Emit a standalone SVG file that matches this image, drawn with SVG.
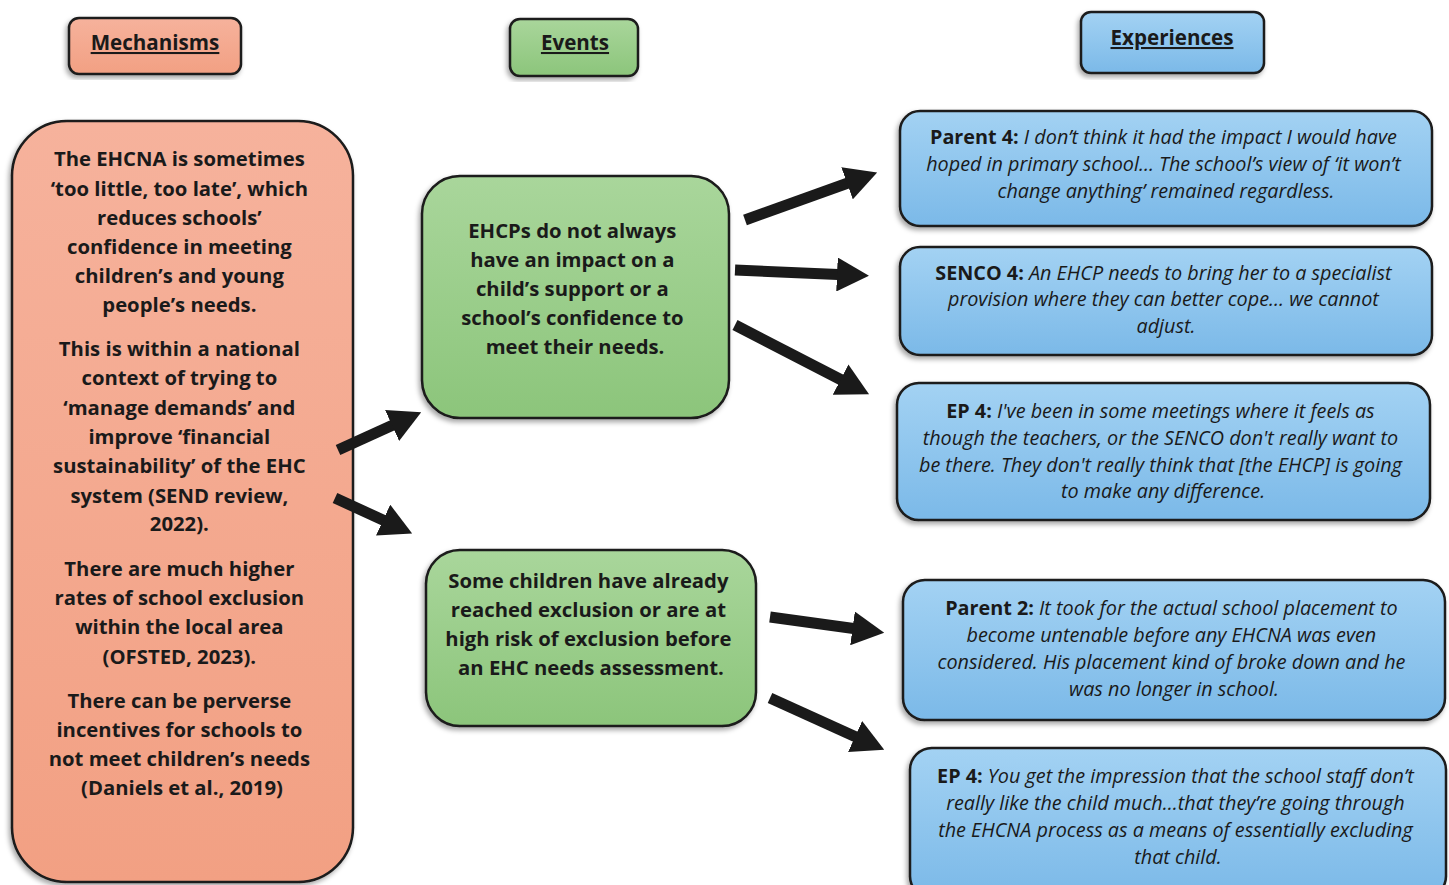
<svg xmlns="http://www.w3.org/2000/svg" width="1449" height="885" viewBox="0 0 1449 885">
  <defs>
    <linearGradient id="gSalmon" x1="0" y1="0" x2="0" y2="1">
      <stop offset="0" stop-color="#f6b29c"/>
      <stop offset="1" stop-color="#f2a083"/>
    </linearGradient>
    <linearGradient id="gGreen" x1="0" y1="0" x2="0" y2="1">
      <stop offset="0" stop-color="#a9d69b"/>
      <stop offset="1" stop-color="#8cc57b"/>
    </linearGradient>
    <linearGradient id="gBlue" x1="0" y1="0" x2="0" y2="1">
      <stop offset="0" stop-color="#a3d2f3"/>
      <stop offset="1" stop-color="#7bb9e8"/>
    </linearGradient>
    <filter id="shadow" x="-10%" y="-10%" width="120%" height="120%">
      <feDropShadow dx="-2" dy="3" stdDeviation="2.5" flood-color="#000" flood-opacity="0.35"/>
    </filter>
    <marker id="head" markerUnits="userSpaceOnUse" markerWidth="32" markerHeight="34" viewBox="0 0 32 34" refX="1" refY="17" orient="auto">
      <path d="M0,0 L32,17 L0,34 z" fill="#1a1a1a"/>
    </marker>
  </defs>
  <style>
    .box { stroke: #1a1a1a; stroke-width: 2.5; filter: url(#shadow); }
    .salmon { fill: url(#gSalmon); }
    .green { fill: url(#gGreen); }
    .blue { fill: url(#gBlue); }
    .hdr { font-family: "Open Sans", Lato, sans-serif; font-weight: bold; font-size: 20.6px; fill: #1a1a1a; text-anchor: middle; text-decoration: underline; }
    .body { font-family: "Open Sans", Lato, sans-serif; font-weight: bold; font-size: 20.3px; fill: #1a1a1a; text-anchor: middle; }
    .quote { font-family: "Open Sans", Lato, sans-serif; font-size: 19.8px; fill: #1a1a1a; text-anchor: middle; font-style: italic; }
    .lbl { font-weight: bold; font-style: normal; }
    .conn { stroke: #1a1a1a; stroke-width: 11; fill: none; marker-end: url(#head); }
  </style>

  <rect width="1449" height="885" fill="#ffffff"/>

  <!-- column headings -->
  <g id="hdr-mechanisms">
    <rect class="box salmon" x="69" y="18" width="172" height="56" rx="10"/>
    <text class="hdr" x="155" y="50">Mechanisms</text>
  </g>
  <g id="hdr-events">
    <rect class="box green" x="510" y="19" width="128" height="57" rx="10"/>
    <text class="hdr" x="575" y="50">Events</text>
  </g>
  <g id="hdr-experiences">
    <rect class="box blue" x="1081" y="12" width="183" height="61" rx="10"/>
    <text class="hdr" x="1172" y="45">Experiences</text>
  </g>

  <!-- mechanisms -->
  <g id="mechanisms">
    <rect class="box salmon" x="12" y="121" width="341" height="761" rx="55"/>
    <text class="body">
      <tspan x="182" y="166">The EHCNA is sometimes</tspan>
      <tspan x="182" y="195.5">‘too little, too late’, which</tspan>
      <tspan x="182" y="225">reduces schools’</tspan>
      <tspan x="182" y="254">confidence in meeting</tspan>
      <tspan x="182" y="283">children’s and young</tspan>
      <tspan x="182" y="312">people’s needs.</tspan>
      <tspan x="182" y="356">This is within a national</tspan>
      <tspan x="182" y="385">context of trying to</tspan>
      <tspan x="182" y="415">‘manage demands’ and</tspan>
      <tspan x="182" y="444">improve ‘financial</tspan>
      <tspan x="182" y="473">sustainability’ of the EHC</tspan>
      <tspan x="182" y="503">system (SEND review,</tspan>
      <tspan x="182" y="531">2022).</tspan>
      <tspan x="182" y="576">There are much higher</tspan>
      <tspan x="182" y="605">rates of school exclusion</tspan>
      <tspan x="182" y="634">within the local area</tspan>
      <tspan x="182" y="664">(OFSTED, 2023).</tspan>
      <tspan x="182" y="708">There can be perverse</tspan>
      <tspan x="182" y="737">incentives for schools to</tspan>
      <tspan x="182" y="766">not meet children’s needs</tspan>
      <tspan x="182" y="795">(Daniels et al., 2019)</tspan>
    </text>
  </g>

  <!-- events -->
  <g id="event-impact">
    <rect class="box green" x="422" y="176" width="307" height="242" rx="38"/>
    <text class="body">
      <tspan x="575" y="238">EHCPs do not always</tspan>
      <tspan x="575" y="267">have an impact on a</tspan>
      <tspan x="575" y="296">child’s support or a</tspan>
      <tspan x="575" y="325">school’s confidence to</tspan>
      <tspan x="575" y="354">meet their needs.</tspan>
    </text>
  </g>
  <g id="event-exclusion">
    <rect class="box green" x="426" y="550" width="330" height="176" rx="34"/>
    <text class="body">
      <tspan x="591" y="588">Some children have already</tspan>
      <tspan x="591" y="617">reached exclusion or are at</tspan>
      <tspan x="591" y="646">high risk of exclusion before</tspan>
      <tspan x="591" y="675">an EHC needs assessment.</tspan>
    </text>
  </g>

  <!-- experiences -->
  <g id="exp-parent4">
    <rect class="box blue" x="900" y="111" width="532" height="115" rx="20"/>
    <text class="quote">
      <tspan x="1166" y="143.5"><tspan class="lbl">Parent 4:</tspan> I don’t think it had the impact I would have</tspan>
      <tspan x="1166" y="170.5">hoped in primary school… The school’s view of ‘it won’t</tspan>
      <tspan x="1166" y="197.5">change anything’ remained regardless.</tspan>
    </text>
  </g>
  <g id="exp-senco4">
    <rect class="box blue" x="900" y="247" width="532" height="108" rx="20"/>
    <text class="quote">
      <tspan x="1166" y="279.5"><tspan class="lbl">SENCO 4:</tspan> An EHCP needs to bring her to a specialist</tspan>
      <tspan x="1166" y="305.5">provision where they can better cope… we cannot</tspan>
      <tspan x="1166" y="332.5">adjust.</tspan>
    </text>
  </g>
  <g id="exp-ep4-meetings">
    <rect class="box blue" x="897" y="383" width="533" height="137" rx="22"/>
    <text class="quote">
      <tspan x="1163" y="417.5"><tspan class="lbl">EP 4:</tspan> I've been in some meetings where it feels as</tspan>
      <tspan x="1163" y="444.5">though the teachers, or the SENCO don't really want to</tspan>
      <tspan x="1163" y="471.5">be there. They don't really think that [the EHCP] is going</tspan>
      <tspan x="1163" y="497.5">to make any difference.</tspan>
    </text>
  </g>
  <g id="exp-parent2">
    <rect class="box blue" x="903" y="580" width="542" height="140" rx="22"/>
    <text class="quote">
      <tspan x="1174" y="614.5"><tspan class="lbl">Parent 2:</tspan> It took for the actual school placement to</tspan>
      <tspan x="1174" y="641.5">become untenable before any EHCNA was even</tspan>
      <tspan x="1174" y="668.5">considered. His placement kind of broke down and he</tspan>
      <tspan x="1174" y="695.5">was no longer in school.</tspan>
    </text>
  </g>
  <g id="exp-ep4-excluding">
    <rect class="box blue" x="910" y="748" width="536" height="150" rx="22"/>
    <text class="quote">
      <tspan x="1178" y="782.5"><tspan class="lbl">EP 4:</tspan> You get the impression that the school staff don’t</tspan>
      <tspan x="1178" y="809.5">really like the child much…that they’re going through</tspan>
      <tspan x="1178" y="836.5">the EHCNA process as a means of essentially excluding</tspan>
      <tspan x="1178" y="863.5">that child.</tspan>
    </text>
  </g>

  <!-- connectors -->
  <g id="connectors">
    <line class="conn" x1="338" y1="450" x2="393" y2="425"/>
    <line class="conn" x1="335" y1="498" x2="384" y2="520.5"/>
    <line class="conn" x1="745" y1="220" x2="848" y2="183"/>
    <line class="conn" x1="735" y1="270" x2="838" y2="274.5"/>
    <line class="conn" x1="735" y1="325" x2="841.5" y2="380"/>
    <line class="conn" x1="770" y1="617" x2="853.5" y2="628.5"/>
    <line class="conn" x1="770" y1="698" x2="856" y2="737"/>
  </g>
</svg>
